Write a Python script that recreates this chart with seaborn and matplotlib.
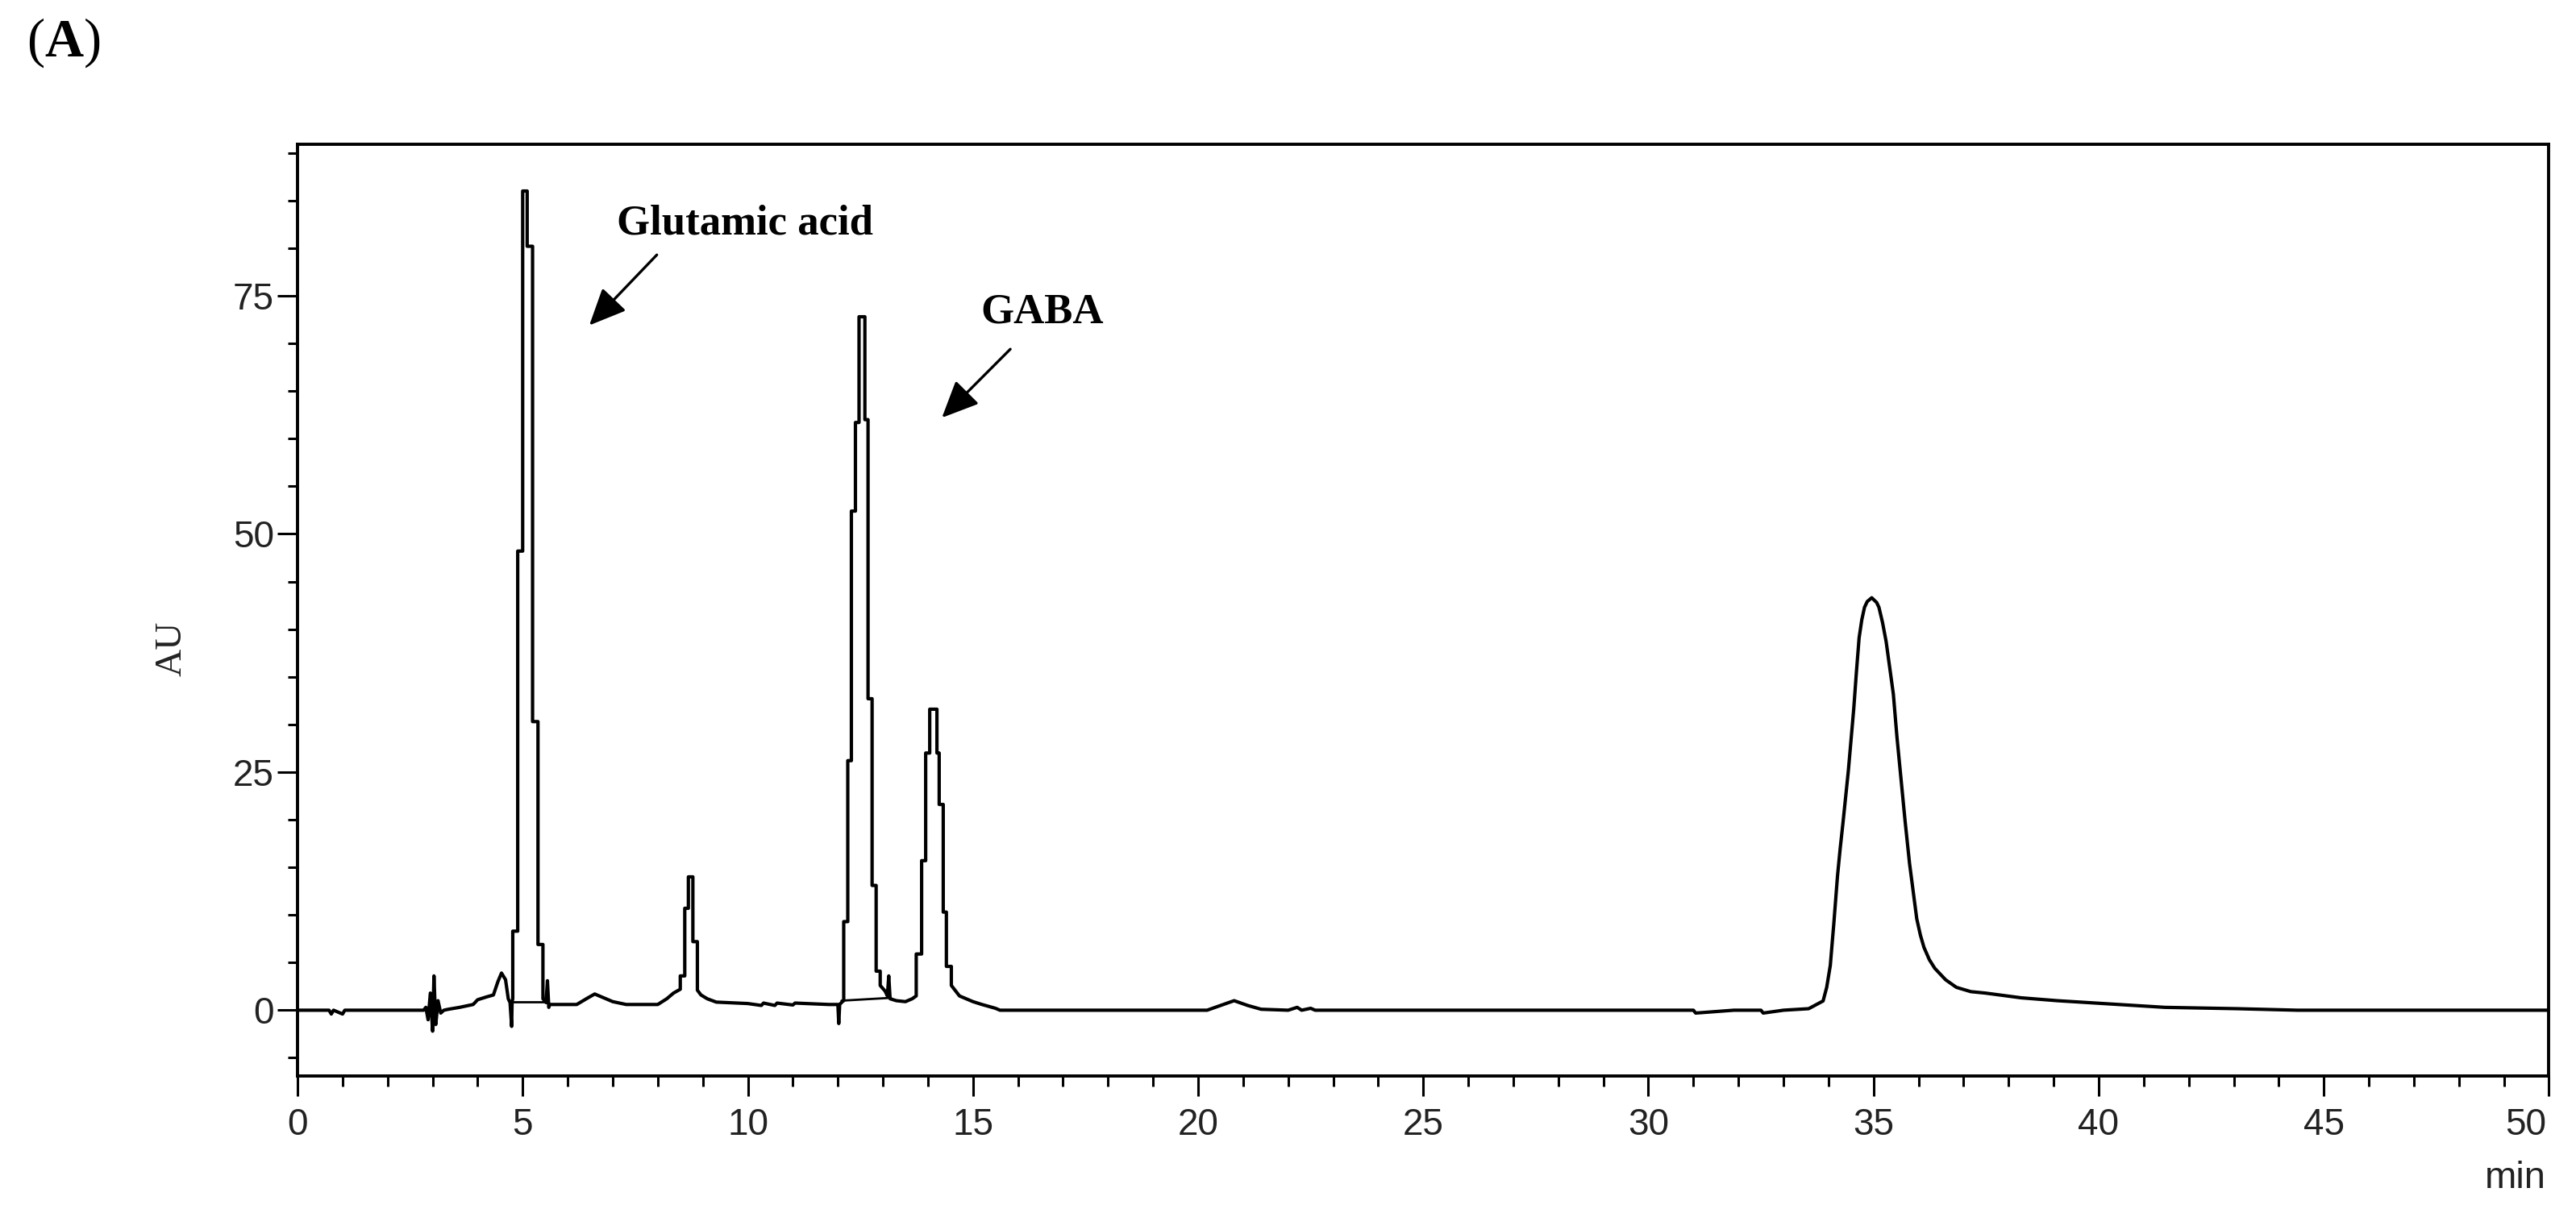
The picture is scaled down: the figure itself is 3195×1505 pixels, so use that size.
import matplotlib
matplotlib.use("Agg")
import matplotlib.pyplot as plt
import seaborn as sns
import pandas as pd
from matplotlib.ticker import MultipleLocator, FixedFormatter, FixedLocator

# ---------------- data ----------------
time_min = [
    0.00, 0.70, 0.75, 0.80, 1.00, 1.05, 2.80,
    2.85, 2.90, 2.95, 3.00, 3.03, 3.07, 3.12, 3.18, 3.25, 3.35,
    3.60, 3.90, 4.00, 4.20, 4.35, 4.45, 4.53, 4.62, 4.68, 4.72, 4.755, 4.765,
    4.78, 4.78, 4.89, 4.89, 5.00, 5.00, 5.10, 5.10, 5.22, 5.22, 5.34, 5.34, 5.45, 5.45,
    5.52, 5.55, 5.58, 5.60, 5.70, 6.20, 6.45, 6.60, 6.80, 7.00, 7.30, 8.00, 8.20, 8.35,
    8.50, 8.50, 8.60, 8.60, 8.68, 8.68, 8.78, 8.78, 8.88, 8.88, 8.96,
    9.10, 9.30, 10.00, 10.30, 10.35, 10.60, 10.65, 11.00, 11.05, 11.80, 12.00, 12.02, 12.04, 12.10,
    12.13, 12.13, 12.22, 12.22, 12.30, 12.30, 12.39, 12.39, 12.47, 12.47, 12.60, 12.60,
    12.67, 12.67, 12.76, 12.76, 12.85, 12.85, 12.94, 12.94, 13.05, 13.10, 13.13, 13.16,
    13.30, 13.50, 13.65, 13.74,
    13.74, 13.86, 13.86, 13.95, 13.95, 14.04, 14.04, 14.20, 14.20, 14.25, 14.25, 14.34,
    14.34, 14.41, 14.41, 14.52, 14.52, 14.70, 15.00, 15.20, 15.50, 15.60,
    20.20, 20.50, 20.80, 21.10, 21.40, 22.00, 22.20, 22.30, 22.50, 22.60,
    30.50, 31.00, 31.05, 31.90, 32.50, 32.55, 33.00, 33.56,
    33.88, 33.96, 34.04, 34.12, 34.20, 34.26, 34.32, 34.44, 34.56, 34.62, 34.68, 34.74,
    34.80, 34.86, 34.96, 35.07, 35.12, 35.20, 35.28, 35.44, 35.52, 35.60, 35.70, 35.80,
    35.96, 36.04, 36.12, 36.24, 36.36, 36.60, 36.84, 37.16, 37.48, 38.28, 39.08, 40.28,
    41.47, 43.07, 44.41, 50.00,
]
au = [
    0.00, 0.00, -0.40, 0.00, -0.40, 0.00, 0.00,
    0.30, -1.00, 1.80, -2.20, 3.60, -1.50, 1.00, -0.30, 0.00, 0.10,
    0.30, 0.60, 1.10, 1.40, 1.60, 3.00, 3.90, 3.20, 1.20, 0.80, -1.70, 0.90,
    1.20, 8.30, 8.30, 48.20, 48.20, 86.00, 86.00, 80.20, 80.20, 30.30, 30.30, 6.90, 6.90, 1.20,
    0.80, 3.10, 0.30, 0.60, 0.60, 0.60, 1.30, 1.70, 1.30, 0.90, 0.60, 0.60, 1.20, 1.80,
    2.20, 3.60, 3.60, 10.70, 10.70, 14.00, 14.00, 7.20, 7.20, 2.10, 1.60,
    1.20, 0.85, 0.70, 0.50, 0.75, 0.50, 0.75, 0.55, 0.75, 0.60, 0.60, -1.40, 0.60, 0.90,
    1.00, 9.30, 9.30, 26.20, 26.20, 52.40, 52.40, 61.70, 61.70, 72.80, 72.80, 62.00,
    62.00, 32.70, 32.70, 13.10, 13.10, 4.10, 4.10, 2.60, 2.00, 1.50, 3.60, 1.20,
    1.00, 0.90, 1.20, 1.50,
    5.90, 5.90, 15.70, 15.70, 27.00, 27.00, 31.60, 31.60, 27.00, 27.00, 21.60, 21.60,
    10.30, 10.30, 4.60, 4.60, 2.60, 1.50, 0.90, 0.60, 0.20, 0.00,
    0.00, 0.50, 1.00, 0.50, 0.10, 0.00, 0.30, 0.00, 0.20, 0.00,
    0.00, 0.00, -0.30, 0.00, 0.00, -0.30, 0.00, 0.16,
    0.97, 2.40, 4.70, 9.20, 14.10, 17.00, 19.60, 25.10, 31.60, 35.50, 39.10, 41.00,
    42.30, 42.90, 43.30, 42.80, 42.30, 40.70, 38.70, 33.20, 28.70, 24.80, 19.90, 15.40,
    9.60, 7.90, 6.60, 5.30, 4.40, 3.20, 2.40, 1.95, 1.80, 1.30, 1.00, 0.65,
    0.30, 0.16, 0.00, 0.00,
]

# integration baselines drawn under two peaks
integ1_t = [4.75, 5.55]
integ1_v = [0.9, 0.9]
integ2_t = [12.08, 13.18]
integ2_v = [1.0, 1.3]

x_major = [0, 5, 10, 15, 20, 25, 30, 35, 40, 45, 50]
x_labels = ["0", "5", "10", "15", "20", "25", "30", "35", "40", "45", "50"]
y_major = [0, 25, 50, 75]

labels = {"glu": "Glutamic acid", "gaba": "GABA", "panel": r"$(\mathbf{A})$",
          "ylabel": "AU", "xlabel": "min"}

# ---------------- figure ----------------
sns.set_theme(style="ticks")
plt.rcParams["font.family"] = ["Liberation Sans", "DejaVu Sans"]
plt.rcParams["mathtext.fontset"] = "custom"
plt.rcParams["mathtext.rm"] = "Liberation Serif"
plt.rcParams["mathtext.bf"] = "Liberation Serif:bold"

fig = plt.figure(figsize=(15.975, 7.525), dpi=200)
ax = fig.add_axes([0.1155, 0.113, 0.874, 0.768])

df = pd.DataFrame({"t": time_min, "v": au})
sns.lineplot(data=df, x="t", y="v", sort=False, estimator=None,
             color="black", linewidth=1.5, ax=ax)
sns.lineplot(x=integ1_t, y=integ1_v, sort=False, estimator=None,
             color="black", linewidth=1.0, ax=ax)
sns.lineplot(x=integ2_t, y=integ2_v, sort=False, estimator=None,
             color="black", linewidth=1.0, ax=ax)

ax.set_xlim(0, 50)
ax.set_ylim(-6.9, 90.9)
ax.xaxis.set_major_locator(FixedLocator(x_major))
# last label is drawn right-aligned separately
ax.xaxis.set_major_formatter(FixedFormatter(x_labels[:-1] + [""]))
ax.set_yticks(y_major)
ax.xaxis.set_minor_locator(MultipleLocator(1))
ax.yaxis.set_minor_locator(MultipleLocator(5))

for s in ax.spines.values():
    s.set_linewidth(1.4)
    s.set_color("black")

tick_fs = 16.5
ax.tick_params(axis="both", which="major", direction="out", length=9,
               width=1.1, colors="black", labelsize=tick_fs, labelcolor="#222222")
ax.tick_params(axis="x", which="major", pad=5)
ax.tick_params(axis="y", which="major", pad=1.5)
ax.tick_params(axis="both", which="minor", direction="out", length=4.5,
               width=1.1, colors="black")
ax.tick_params(top=False, right=False, which="both")

ax.annotate(x_labels[-1], xy=(x_major[-1], 0), xycoords=ax.get_xaxis_transform(),
            xytext=(-1, -14), textcoords="offset points", ha="right", va="top",
            fontsize=tick_fs, color="#222222")

ax.set_ylabel(labels["ylabel"], family="Liberation Serif", fontsize=17, color="#222222")
ax.yaxis.set_label_coords(-0.048, 0.459)
ax.set_xlabel(labels["xlabel"], fontsize=17, color="#222222", ha="right", va="center")
ax.xaxis.set_label_coords(0.9986, -0.11)

ax.text(7.09, 81.5, labels["glu"], family="Liberation Serif", fontweight="bold",
        fontsize=19, ha="left", va="baseline", color="black")
ax.text(15.18, 72.2, labels["gaba"], family="Liberation Serif", fontweight="bold",
        fontsize=19, ha="left", va="baseline", color="black")

arrow_style = dict(arrowstyle="-|>,head_length=1.0,head_width=0.45",
                   mutation_scale=14, lw=1.2, color="black", shrinkA=0, shrinkB=0)
ax.annotate("", xy=(6.48, 71.9), xytext=(7.98, 79.3), arrowprops=arrow_style)
ax.annotate("", xy=(14.31, 62.2), xytext=(15.83, 69.4), arrowprops=arrow_style)

fig.text(33 / 3195, 1 - 20 / 1505, labels["panel"],
         fontsize=24, ha="left", va="top", color="black")

fig.savefig("out.png", dpi=200, facecolor="white")
